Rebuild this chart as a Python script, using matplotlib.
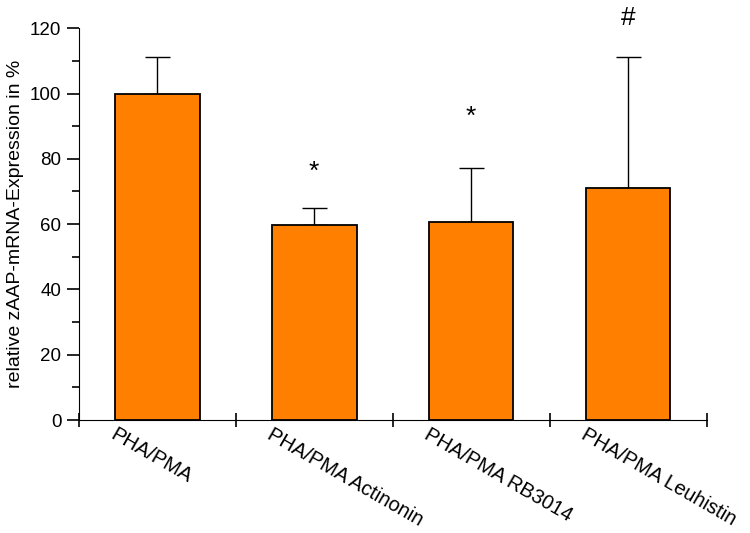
import matplotlib
matplotlib.use("Agg")
from matplotlib import pyplot as plt
import numpy as np

plt.rcParams['font.family'] = ['Liberation Sans', 'DejaVu Sans']

# data
groups = ["PHA/PMA", "PHA/PMA Actinonin", "PHA/PMA RB3014", "PHA/PMA Leuhistin"]
means = [100.0, 59.7, 60.7, 71.1]
errors = [11.2, 5.2, 16.5, 40.0]
marks = ["", "*", "*", "#"]
mark_y = [0, 76, 93, 123]

x = np.arange(len(groups))

fig = plt.figure(figsize=(7.5, 5.33), dpi=100)
ax = fig.add_axes([0.105, 0.212, 0.837, 0.735])

ax.bar(x, means, width=0.54, color='#FF8000', edgecolor='black', linewidth=1.3, zorder=2)
ax.errorbar(x, means, yerr=[np.zeros(len(means)), errors], fmt='none',
            ecolor='black', elinewidth=1.0, capsize=9, capthick=1.0, zorder=1)

for i, m in enumerate(marks):
    if m:
        ax.text(x[i], mark_y[i], m, ha='center', va='center', fontsize=19, clip_on=False)

ax.set_xlim(-0.5, 3.5)
ax.set_ylim(0, 120)
ax.spines['top'].set_visible(False)
ax.spines['right'].set_visible(False)

# major x ticks at the group boundaries, labels drawn separately
ax.set_xticks(np.arange(-0.5, 4, 1.0))
ax.set_xticklabels([])
ax.set_xticks(x, minor=True)
ax.tick_params(axis='x', which='major', direction='inout', length=10, width=1.2)
ax.tick_params(axis='x', which='minor', direction='in', length=3, width=0.8, color='gray')

ax.set_yticks(np.arange(0, 121, 20))
ax.set_yticks(np.arange(10, 120, 20), minor=True)
ax.tick_params(axis='y', which='major', direction='out', length=9, width=1.2, labelsize=13.5)
ax.tick_params(axis='y', which='minor', direction='out', length=5, width=1.2)

for i, g in enumerate(groups):
    ax.text(x[i] - 0.26, -1.5, g, transform=ax.transData, rotation=-30,
            rotation_mode='anchor', ha='left', va='top', fontsize=14.5, clip_on=False)

ax.set_ylabel("relative zAAP-mRNA-Expression in %", fontsize=14)

fig.savefig("out.png", dpi=100)
